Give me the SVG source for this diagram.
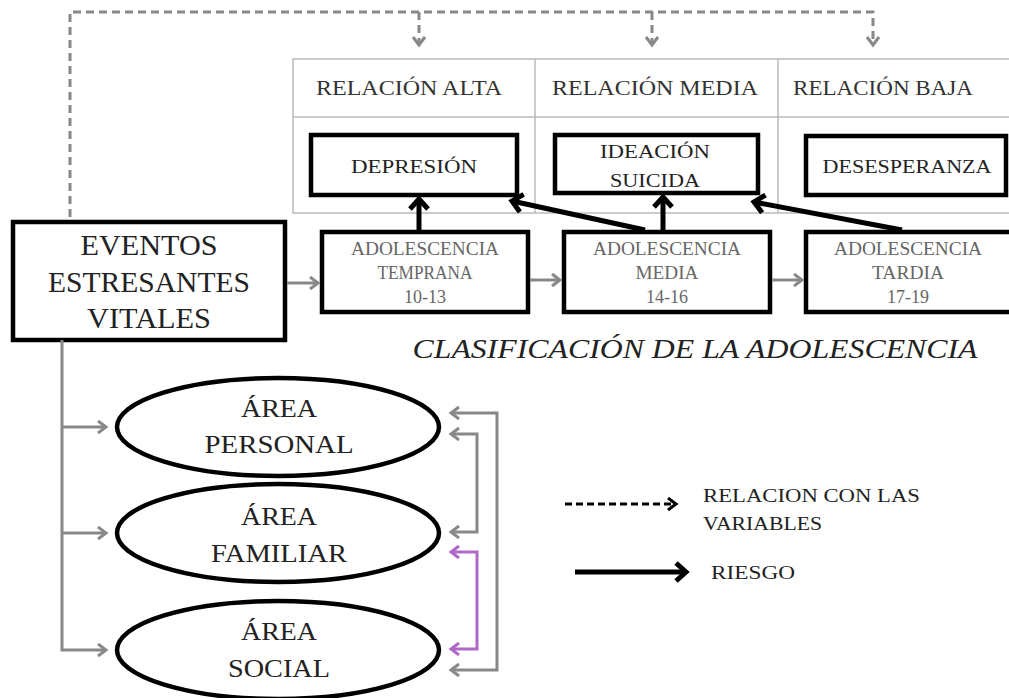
<svg xmlns="http://www.w3.org/2000/svg" width="1009" height="698" viewBox="0 0 1009 698">
<defs>
<marker id="gh" markerUnits="userSpaceOnUse" markerWidth="14" markerHeight="16" refX="9" refY="7" orient="auto-start-reverse"><path d="M1,1 L9,7 L1,13" fill="none" stroke="#888" stroke-width="3"/></marker>
<marker id="ph" markerUnits="userSpaceOnUse" markerWidth="14" markerHeight="16" refX="9" refY="7" orient="auto-start-reverse"><path d="M1,1 L9,7 L1,13" fill="none" stroke="#b068c8" stroke-width="3"/></marker>
<marker id="bh" markerUnits="userSpaceOnUse" markerWidth="20" markerHeight="24" refX="12" refY="11" orient="auto"><path d="M2,2 L12,11 L2,20" fill="none" stroke="#000" stroke-width="5"/></marker>
<marker id="bh2" markerUnits="userSpaceOnUse" markerWidth="14" markerHeight="16" refX="9" refY="7" orient="auto"><path d="M1,1 L9,7 L1,13" fill="none" stroke="#000" stroke-width="3"/></marker>
</defs>
<style>
.t{font-family:"Liberation Serif",serif;text-anchor:middle}
.box{fill:#fff;stroke:#000;stroke-width:4.5}
.ell{fill:#fff;stroke:#000;stroke-width:4.5}
.g{fill:none;stroke:#888;stroke-width:3}
.gd{fill:none;stroke:#888;stroke-width:3;stroke-dasharray:8 5}
.blk{fill:none;stroke:#000;stroke-width:5}
.tbl{fill:none;stroke:#bbb;stroke-width:1.5}
</style>
<rect width="1009" height="698" fill="#fff"/>
<g id="tabla">
<rect class="tbl" x="293" y="59" width="720" height="154"/>
<line class="tbl" x1="293" y1="117" x2="1009" y2="117"/>
<line class="tbl" x1="535" y1="59" x2="535" y2="213"/>
<line class="tbl" x1="778" y1="59" x2="778" y2="213"/>
<text class="t" x="409" y="95" font-size="21" fill="#333" textLength="186" lengthAdjust="spacingAndGlyphs">RELACIÓN ALTA</text>
<text class="t" x="655" y="95" font-size="21" fill="#333" textLength="206" lengthAdjust="spacingAndGlyphs">RELACIÓN MEDIA</text>
<text class="t" x="883" y="95" font-size="21" fill="#333" textLength="180" lengthAdjust="spacingAndGlyphs">RELACIÓN BAJA</text>
</g>
<g id="depresion"><rect class="box" x="311" y="135" width="206" height="60"/><text class="t" x="414" y="173" font-size="18" fill="#222" textLength="126" lengthAdjust="spacingAndGlyphs">DEPRESIÓN</text></g>
<g id="ideacion"><rect class="box" x="555" y="135" width="203" height="58"/><text class="t" x="655" y="158" font-size="18" fill="#222" textLength="110" lengthAdjust="spacingAndGlyphs">IDEACIÓN</text><text class="t" x="655" y="187" font-size="18" fill="#222" textLength="90" lengthAdjust="spacingAndGlyphs">SUICIDA</text></g>
<g id="desesperanza"><rect class="box" x="806" y="136" width="200" height="59"/><text class="t" x="907" y="173" font-size="18" fill="#222" textLength="169" lengthAdjust="spacingAndGlyphs">DESESPERANZA</text></g>
<g id="eventos"><rect class="box" x="13" y="222" width="272" height="118"/>
<text class="t" x="149" y="255" font-size="30" fill="#222" textLength="137" lengthAdjust="spacingAndGlyphs">EVENTOS</text>
<text class="t" x="149" y="292" font-size="30" fill="#222" textLength="202" lengthAdjust="spacingAndGlyphs">ESTRESANTES</text>
<text class="t" x="149" y="328" font-size="30" fill="#222" textLength="124" lengthAdjust="spacingAndGlyphs">VITALES</text></g>
<g id="temprana"><rect class="box" x="322" y="232" width="206" height="80"/>
<text class="t" x="425" y="255" font-size="18" fill="#666" textLength="148" lengthAdjust="spacingAndGlyphs">ADOLESCENCIA</text>
<text class="t" x="425" y="279" font-size="18" fill="#666" textLength="95" lengthAdjust="spacingAndGlyphs">TEMPRANA</text>
<text class="t" x="425" y="303" font-size="18" fill="#666">10-13</text></g>
<g id="media"><rect class="box" x="564" y="232" width="206" height="80"/>
<text class="t" x="667" y="255" font-size="18" fill="#666" textLength="148" lengthAdjust="spacingAndGlyphs">ADOLESCENCIA</text>
<text class="t" x="667" y="279" font-size="18" fill="#666" textLength="63" lengthAdjust="spacingAndGlyphs">MEDIA</text>
<text class="t" x="667" y="303" font-size="18" fill="#666">14-16</text></g>
<g id="tardia"><rect class="box" x="806" y="232" width="210" height="80"/>
<text class="t" x="908" y="255" font-size="18" fill="#666" textLength="148" lengthAdjust="spacingAndGlyphs">ADOLESCENCIA</text>
<text class="t" x="908" y="279" font-size="18" fill="#666" textLength="72" lengthAdjust="spacingAndGlyphs">TARDIA</text>
<text class="t" x="908" y="303" font-size="18" fill="#666">17-19</text></g>
<g id="clasificacion"><text class="t" x="695" y="358" font-size="28" font-style="italic" fill="#222" textLength="565" lengthAdjust="spacingAndGlyphs">CLASIFICACIÓN DE LA ADOLESCENCIA</text></g>
<g id="personal"><ellipse class="ell" cx="278" cy="427" rx="161" ry="49"/>
<text class="t" x="279" y="417" font-size="26" fill="#222" textLength="76" lengthAdjust="spacingAndGlyphs">ÁREA</text>
<text class="t" x="279" y="453" font-size="26" fill="#222" textLength="149" lengthAdjust="spacingAndGlyphs">PERSONAL</text></g>
<g id="familiar"><ellipse class="ell" cx="278" cy="533" rx="161" ry="49"/>
<text class="t" x="279" y="525" font-size="26" fill="#222" textLength="76" lengthAdjust="spacingAndGlyphs">ÁREA</text>
<text class="t" x="279" y="562" font-size="26" fill="#222" textLength="136" lengthAdjust="spacingAndGlyphs">FAMILIAR</text></g>
<g id="social"><ellipse class="ell" cx="278" cy="650" rx="161" ry="49"/>
<text class="t" x="279" y="640" font-size="26" fill="#222" textLength="76" lengthAdjust="spacingAndGlyphs">ÁREA</text>
<text class="t" x="279" y="677" font-size="26" fill="#222" textLength="102" lengthAdjust="spacingAndGlyphs">SOCIAL</text></g>
<g id="leyenda">
<line x1="565" y1="504" x2="676" y2="504" stroke="#000" stroke-width="3" stroke-dasharray="7 4" marker-end="url(#bh2)"/>
<text x="703" y="502" font-family="Liberation Serif,serif" font-size="19" fill="#222" textLength="217" lengthAdjust="spacingAndGlyphs">RELACION CON LAS</text>
<text x="703" y="530" font-family="Liberation Serif,serif" font-size="19" fill="#222" textLength="119" lengthAdjust="spacingAndGlyphs">VARIABLES</text>
<line class="blk" x1="575" y1="572" x2="686" y2="572" marker-end="url(#bh)"/>
<text x="711" y="579" font-family="Liberation Serif,serif" font-size="19" fill="#222" textLength="84" lengthAdjust="spacingAndGlyphs">RIESGO</text>
</g>
<g id="conectores">
<polyline class="gd" points="70,217 70,12 873,12 873,45" marker-end="url(#gh)"/>
<line class="gd" x1="419" y1="12" x2="419" y2="45" marker-end="url(#gh)"/>
<line class="gd" x1="652" y1="12" x2="652" y2="45" marker-end="url(#gh)"/>
<line class="g" x1="287" y1="283" x2="318" y2="283" marker-end="url(#gh)"/>
<line class="g" x1="530" y1="280" x2="560" y2="280" marker-end="url(#gh)"/>
<line class="g" x1="772" y1="280" x2="802" y2="280" marker-end="url(#gh)"/>
<line class="blk" x1="419" y1="230" x2="419" y2="199" marker-end="url(#bh)"/>
<line class="blk" x1="663" y1="230" x2="663" y2="197" marker-end="url(#bh)"/>
<line class="blk" x1="645" y1="230" x2="512" y2="201" marker-end="url(#bh)"/>
<line class="blk" x1="902" y1="230" x2="754" y2="202" marker-end="url(#bh)"/>
<polyline class="g" points="62,340 62,650 106,650" marker-end="url(#gh)"/>
<line class="g" x1="62" y1="427" x2="106" y2="427" marker-end="url(#gh)"/>
<line class="g" x1="62" y1="533" x2="106" y2="533" marker-end="url(#gh)"/>
<polyline class="g" points="451,413 497,413 497,670 451,670" marker-start="url(#gh)" marker-end="url(#gh)"/>
<polyline class="g" points="451,434 477,434 477,532 451,532" marker-start="url(#gh)" marker-end="url(#gh)"/>
<polyline points="451,552 477,552 477,649 451,649" fill="none" stroke="#b068c8" stroke-width="3" marker-start="url(#ph)" marker-end="url(#ph)"/>
</g>
</svg>
